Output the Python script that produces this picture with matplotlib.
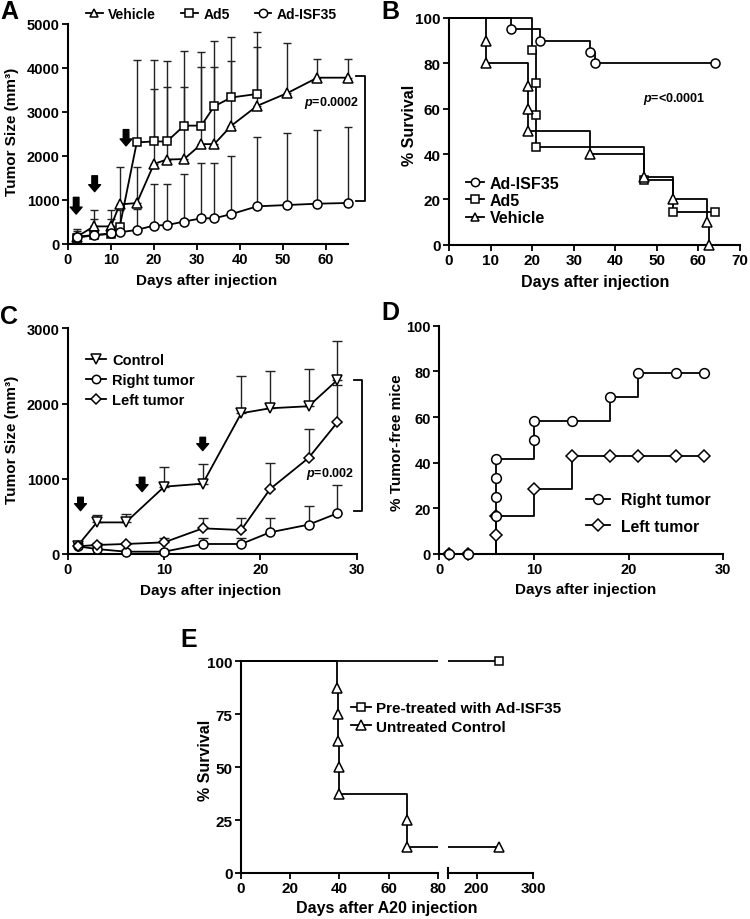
import matplotlib
matplotlib.use("Agg")
import matplotlib.pyplot as plt
from matplotlib.lines import Line2D
from matplotlib.transforms import Bbox, TransformedBbox
import numpy as np

plt.rcParams['font.family'] = ['Liberation Sans', 'DejaVu Sans']
plt.rcParams['font.weight'] = 'bold'
plt.rcParams['axes.labelweight'] = 'bold'
plt.rcParams['mathtext.fontset'] = 'custom'
plt.rcParams['mathtext.rm'] = 'Liberation Sans:bold'
plt.rcParams['mathtext.it'] = 'Liberation Sans:italic:bold'
plt.rcParams['mathtext.bf'] = 'Liberation Sans:bold'

# ---------------- Panel A data ----------------
a_days = [2, 6, 10, 12, 16, 20, 23, 27, 31, 34, 38, 44, 51, 58, 65]
a_vehicle = [160, 400, 400, 900, 930, 1820, 1920, 1930, 2270, 2270, 2690, 3140, 3430, 3780, 3780]
a_vehicle_up = [330, 780, 780, 1750, 1750, 3530, 3560, 3560, 4016, 4016, 4152, 4485, 4560, 4205, 4205]
a_ad5_days = [2, 6, 10, 12, 16, 20, 23, 27, 31, 34, 38, 44]
a_ad5 = [140, 200, 230, 380, 2310, 2330, 2330, 2690, 2690, 3130, 3330, 3410]
a_ad5_up = [300, 560, 570, 780, 4180, 4180, 4170, 4390, 4370, 4620, 4700, 4810]
a_isf = [170, 200, 240, 265, 320, 420, 430, 510, 584, 584, 680, 856, 886, 916, 932]
a_isf_up = [250, 400, 420, 420, 800, 1360, 1360, 1590, 1840, 1840, 1993, 2424, 2515, 2590, 2650]
a_arrow_days = [1.9, 6.2, 13.5]
a_arrow_top = [1060, 1550, 2600]
a_arrow_tip = [680, 1190, 2230]
a_xticks = [0, 10, 20, 30, 40, 50, 60]
a_yticks = [0, 1000, 2000, 3000, 4000, 5000]

# ---------------- Panel B data (Kaplan-Meier) ----------------
b_isf_t = [0, 15, 22, 34, 35, 64]
b_isf_s = [100, 95, 90, 85, 80, 80]
b_ad5_t = [0, 20, 21, 21, 21, 47, 54, 64]
b_ad5_s = [100, 85.7, 71.4, 57.1, 42.9, 28.6, 14.3, 14.3]
b_veh_t = [0, 9, 9, 19, 19, 19, 34, 47, 54, 62, 62.5]
b_veh_s = [100, 90, 80, 70, 60, 50, 40, 30, 20, 10, 0]
b_xticks = [0, 10, 20, 30, 40, 50, 60, 70]
b_yticks = [0, 20, 40, 60, 80, 100]

# ---------------- Panel C data ----------------
c_days = [1, 3, 6, 10, 14, 18, 21, 25, 28]
c_control = [110, 420, 420, 895, 935, 1871, 1937, 1964, 2314]
c_control_up = [150, 523, 532, 1161, 1197, 2371, 2437, 2460, 2836]
c_right = [102, 66, 31, 31, 133, 133, 288, 390, 541]
c_right_up = [120, 100, 50, 50, 213, 213, 474, 643, 918]
c_left = [102, 120, 133, 155, 341, 319, 864, 1277, 1751]
c_left_up = [125, 140, 150, 208, 475, 474, 1206, 1662, 2250]
c_arrow_days = [1.3, 7.7, 14.0]
c_arrow_top = [754, 1020, 1551]
c_arrow_tip = [576, 829, 1374]
c_xticks = [0, 10, 20, 30]
c_yticks = [0, 1000, 2000, 3000]

# ---------------- Panel D data ----------------
d_right_t = [1, 3, 6, 6, 6, 6, 10, 10, 14, 18, 21, 25, 28]
d_right_s = [0, 0, 16.7, 25, 33.3, 41.7, 50, 58.3, 58.3, 68.8, 79.2, 79.2, 79.2]
d_left_t = [1, 3, 6, 6, 10, 14, 18, 21, 25, 28]
d_left_s = [0, 0, 8.3, 16.7, 28.6, 42.9, 42.9, 42.9, 42.9, 42.9]
d_xticks = [0, 10, 20, 30]
d_yticks = [0, 20, 40, 60, 80, 100]

# ---------------- Panel E data ----------------
e_pre_t = [0, 240]
e_pre_s = [100, 100]
e_ctl_t = [0, 39, 39.3, 39.6, 39.9, 40, 67.4, 67.4, 240]
e_ctl_s = [100, 87.5, 75, 62.5, 50, 37.5, 25, 12.5, 12.5]
e_xticks_left = [0, 20, 40, 60, 80]
e_xticks_right = [200, 300]
e_yticks = [0, 25, 50, 75, 100]

W, H = 750, 920
fig = plt.figure(figsize=(7.5, 9.2), dpi=100)

TICK_FS = 10.5
LAB_FS = 11


def px_axes(left, right, top, bottom):
    ax = fig.add_axes([left / W, 1 - bottom / H, (right - left) / W, (bottom - top) / H])
    ax.patch.set_visible(False)
    return ax


def style(ax, fs=TICK_FS):
    for s in ['top', 'right']:
        ax.spines[s].set_visible(False)
    for s in ['left', 'bottom']:
        ax.spines[s].set_linewidth(1.5)
    ax.tick_params(direction='out', length=4, width=1.3, labelsize=fs, pad=2)
    for lab in ax.get_xticklabels() + ax.get_yticklabels():
        lab.set_fontweight('bold')


def ftext(x, y, s, **kw):
    kw.setdefault('ha', 'center')
    kw.setdefault('va', 'center')
    fig.text(x / W, 1 - y / H, s, **kw)


MK = dict(markerfacecolor='white', markeredgecolor='black', markeredgewidth=1.1, color='black', lw=1.3)


def arrows(ax, days, tops, tips):
    for d, t, p in zip(days, tops, tips):
        ax.annotate('', xy=(d, p), xytext=(d, t),
                    arrowprops=dict(arrowstyle='simple,head_length=0.5,head_width=0.85,tail_width=0.4',
                                    mutation_scale=10, fc='black', ec='black', shrinkA=0, shrinkB=0))


def err(ax, x, y, up, capsize):
    y = np.array(y, float)
    up = np.array(up, float)
    ax.errorbar(x, y, yerr=[np.zeros_like(y), up - y], fmt='none', ecolor='#222222',
                elinewidth=1.0, capsize=capsize, capthick=1.0, zorder=1, clip_on=False)


# ====================== Panel A ======================
axA = px_axes(68, 347.5, 25, 245)
err(axA, a_days, a_vehicle, a_vehicle_up, 3)
err(axA, a_ad5_days, a_ad5, a_ad5_up, 3)
err(axA, a_days, a_isf, a_isf_up, 3)
axA.plot(a_days, a_vehicle, marker='^', ms=6.5, zorder=3, clip_on=False, **MK)
axA.plot(a_ad5_days, a_ad5, marker='s', ms=6, zorder=3, clip_on=False, **MK)
axA.plot(a_days, a_isf, marker='o', ms=6.5, zorder=3, clip_on=False, **MK)
arrows(axA, a_arrow_days, a_arrow_top, a_arrow_tip)
axA.set_xlim(0, 65)
axA.set_ylim(0, 5000)
axA.set_xticks(a_xticks)
axA.set_yticks(a_yticks)
style(axA)
axA.plot([67, 69, 69, 67], [3825, 3825, 985, 985], color='black', lw=1.3, clip_on=False)
axA.text(61.3, 3230, r'$\it{p}$=0.0002', fontsize=9, ha='center', va='center')
hA = [Line2D([], [], marker='^', ms=6, **MK), Line2D([], [], marker='s', ms=5.5, **MK),
      Line2D([], [], marker='o', ms=6, **MK)]
fig.legend(hA, ['Vehicle', 'Ad5', 'Ad-ISF35'], ncol=3, loc='center left',
           bbox_to_anchor=(86 / W, 1 - 15 / H), frameon=False, fontsize=10,
           handlelength=1.2, handletextpad=0.4, columnspacing=1.8, borderpad=0, borderaxespad=0)
ftext(207, 281, 'Days after injection', fontsize=LAB_FS, fontweight='bold')
ftext(12, 132, 'Tumor Size (mm³)', fontsize=LAB_FS, fontweight='bold', rotation=90)
ftext(0, 0, 'A', fontsize=18, fontweight='bold', ha='left', va='top')

# ====================== Panel B ======================
axB = px_axes(449, 740, 19, 245.7)
for t, s, m, ms in [(b_isf_t, b_isf_s, 'o', 6.5), (b_ad5_t, b_ad5_s, 's', 6), (b_veh_t, b_veh_s, '^', 6.5)]:
    axB.step(t, s, where='post', color='black', lw=1.3, zorder=2, clip_on=False)
    axB.plot(t[1:], s[1:], ls='none', marker=m, ms=ms, markerfacecolor='white',
             markeredgecolor='black', markeredgewidth=1.1, zorder=3, clip_on=False)
axB.set_xlim(0, 70)
axB.set_ylim(0, 100)
axB.set_xticks(b_xticks)
axB.set_yticks(b_yticks)
style(axB, fs=11)
axB.text(54.1, 64.6, r'$\it{p}$=<0.0001', fontsize=9, ha='center', va='center')
hB = [Line2D([], [], marker='o', ms=6, **MK), Line2D([], [], marker='s', ms=5.5, **MK),
      Line2D([], [], marker='^', ms=6, **MK)]
axB.legend(hB, ['Ad-ISF35', 'Ad5', 'Vehicle'], loc='upper left',
           bbox_to_anchor=(466 / W, 1 - 177 / H), bbox_transform=fig.transFigure,
           frameon=False, fontsize=11.5, handlelength=1.1, handletextpad=0.4,
           labelspacing=0.13, borderpad=0, borderaxespad=0)
ftext(595, 282, 'Days after injection', fontsize=LAB_FS + 0.5, fontweight='bold')
ftext(409, 125, '% Survival', fontsize=LAB_FS + 0.5, fontweight='bold', rotation=90)
ftext(381, 0, 'B', fontsize=18, fontweight='bold', ha='left', va='top')

# ====================== Panel C ======================
axC = px_axes(68, 356.7, 329.3, 555)
err(axC, c_days, c_control, c_control_up, 3.6)
err(axC, c_days, c_right, c_right_up, 3.6)
err(axC, c_days, c_left, c_left_up, 3.6)
axC.plot(c_days, c_control, marker='v', ms=7, zorder=3, clip_on=False, **MK)
axC.plot(c_days, c_right, marker='o', ms=6.5, zorder=3, clip_on=False, **MK)
axC.plot(c_days, c_left, marker='D', ms=5.5, zorder=3, clip_on=False, **MK)
arrows(axC, c_arrow_days, c_arrow_top, c_arrow_tip)
axC.set_xlim(0, 30)
axC.set_ylim(0, 3000)
axC.set_xticks(c_xticks)
axC.set_yticks(c_yticks)
style(axC)
axC.plot([29.7, 30.5, 30.5, 29.7], [2314, 2314, 576, 576], color='black', lw=1.3, clip_on=False)
axC.text(27.2, 1077, r'$\it{p}$=0.002', fontsize=9, ha='center', va='center')
hC = [Line2D([], [], marker='v', ms=6.5, **MK), Line2D([], [], marker='o', ms=6, **MK),
      Line2D([], [], marker='D', ms=5, **MK)]
axC.legend(hC, ['Control', 'Right tumor', 'Left tumor'], loc='upper left',
           bbox_to_anchor=(86 / W, 1 - 354 / H), bbox_transform=fig.transFigure,
           frameon=False, fontsize=10.5, handlelength=1.4, handletextpad=0.4,
           labelspacing=0.4, borderpad=0, borderaxespad=0)
ftext(211, 591, 'Days after injection', fontsize=LAB_FS, fontweight='bold')
ftext(12, 440, 'Tumor Size (mm³)', fontsize=LAB_FS, fontweight='bold', rotation=90)
ftext(0, 305, 'C', fontsize=18, fontweight='bold', ha='left', va='top')

# ====================== Panel D ======================
axD = px_axes(439.3, 723.3, 326.7, 555)
axD.step(d_right_t, d_right_s, where='post', color='black', lw=1.3, zorder=2, clip_on=False)
axD.step(d_left_t, d_left_s, where='post', color='black', lw=1.3, zorder=2, clip_on=False)
axD.plot(d_left_t, d_left_s, ls='none', marker='D', ms=6,
         markerfacecolor='white', markeredgecolor='black', markeredgewidth=1.1, zorder=3, clip_on=False)
axD.plot(d_right_t, d_right_s, ls='none', marker='o', ms=7,
         markerfacecolor='white', markeredgecolor='black', markeredgewidth=1.1, zorder=4, clip_on=False)
axD.set_xlim(0, 30)
axD.set_ylim(0, 100)
axD.set_xticks(d_xticks)
axD.set_yticks(d_yticks)
style(axD)
hD = [Line2D([], [], marker='o', ms=7, **MK), Line2D([], [], marker='D', ms=6, **MK)]
axD.legend(hD, ['Right tumor', 'Left tumor'], loc='upper left',
           bbox_to_anchor=(586 / W, 1 - 493 / H), bbox_transform=fig.transFigure,
           frameon=False, fontsize=11.3, handlelength=1.5, handletextpad=0.75,
           labelspacing=0.74, borderpad=0, borderaxespad=0)
ftext(586, 590, 'Days after injection', fontsize=LAB_FS, fontweight='bold')
ftext(397, 443, '% Tumor-free mice', fontsize=LAB_FS, fontweight='bold', rotation=90)
ftext(381, 301, 'D', fontsize=18, fontweight='bold', ha='left', va='top')

# ====================== Panel E (broken x-axis) ======================
axE1 = px_axes(241, 437.7, 662.3, 874)
axE2 = px_axes(448.3, 533.3, 662.3, 874)
for ax, (lo, hi) in ((axE1, (0, 80)), (axE2, (150, 300))):
    ax.set_xlim(lo, hi)
    ax.set_ylim(0, 100)
    clip = TransformedBbox(Bbox([[lo, -5], [hi, 105]]), ax.transData)
    for t, s in ((e_pre_t, e_pre_s), (e_ctl_t, e_ctl_s)):
        ln, = ax.step(t, s, where='post', color='black', lw=1.3, zorder=2)
        ln.set_clip_box(clip)
    for t, s, m, ms in ((e_ctl_t, e_ctl_s, '^', 7.5), (e_pre_t, e_pre_s, 's', 6)):
        t = np.array(t[1:], float)
        s = np.array(s[1:], float)
        keep = (t >= lo) & (t <= hi)
        ax.plot(t[keep], s[keep], ls='none', marker=m, ms=ms, markerfacecolor='white',
                markeredgecolor='black', markeredgewidth=1.1, zorder=3, clip_on=False)
axE1.set_xticks(e_xticks_left)
axE2.set_xticks(e_xticks_right)
axE1.set_yticks(e_yticks)
style(axE1, fs=11)
style(axE2, fs=11)
axE2.spines['left'].set_visible(False)
axE2.tick_params(axis='y', left=False, labelleft=False)
axE2.plot([0, 0], [-0.025, 0.025], transform=axE2.transAxes, color='black', lw=1.5, clip_on=False)
hE = [Line2D([], [], marker='s', ms=5.5, **MK), Line2D([], [], marker='^', ms=7, **MK)]
axE1.legend(hE, ['Pre-treated with Ad-ISF35', 'Untreated Control'], loc='upper left',
            bbox_to_anchor=(351 / W, 1 - 702 / H), bbox_transform=fig.transFigure,
            frameon=False, fontsize=11, handlelength=1.3, handletextpad=0.35,
            labelspacing=0.3, borderpad=0, borderaxespad=0)
ftext(387, 909, 'Days after A20 injection', fontsize=11.5, fontweight='bold')
ftext(205, 760, '% Survival', fontsize=11.5, fontweight='bold', rotation=90)
ftext(180, 628, 'E', fontsize=18, fontweight='bold', ha='left', va='top')

fig.savefig('out.png', dpi=100)
